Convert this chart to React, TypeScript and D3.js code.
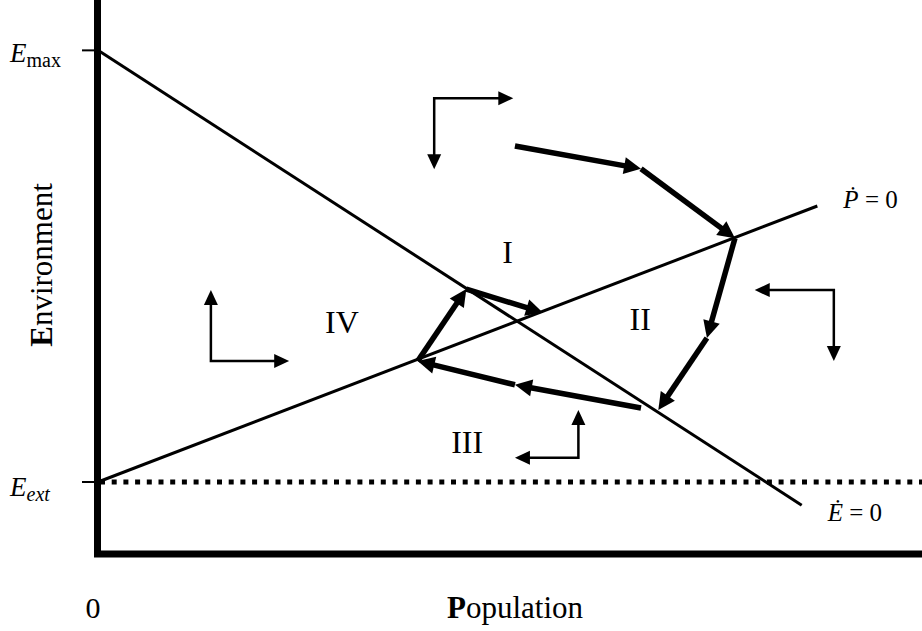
import * as d3 from 'd3'

// phase diagram: population (x) vs environment (y), model units
const E_MAX = 100
const E_EXT = 14.3

// isoclines, [x, y] pairs
const eDotZero: [number, number][] = [[0, 100], [85.4, 9.7]]
const pDotZero: [number, number][] = [[0, 14.3], [87.3, 69.1]]

// thick trajectory segments, each with an arrowhead at its end
const trajectory: [number, number, number, number][] = [
  [50.6, 81.0, 65.9, 76.5],
  [65.9, 76.5, 77.3, 62.7],
  [77.3, 62.7, 73.9, 42.9],
  [73.9, 42.9, 68.0, 28.6],
  [65.9, 29.0, 50.6, 33.6],
  [50.6, 33.6, 38.8, 38.3],
  [38.8, 38.3, 44.7, 52.6],
  [44.7, 52.6, 54.0, 47.9],
]

// direction indicators per region: corner, horizontal tip, vertical tip
const directions = [
  { corner: [40.8, 90.5], hTip: 50.4, vTip: 76.4 },
  { corner: [89.3, 52.4], hTip: 79.7, vTip: 38.3 },
  { corner: [58.3, 19.1], hTip: 50.6, vTip: 28.6 },
  { corner: [13.7, 38.3], hTip: 23.2, vTip: 52.4 },
]

const regionLabels = [
  { text: 'I', at: [49.7, 57.8] },
  { text: 'II', at: [65.8, 44.5] },
  { text: 'III', at: [44.8, 20.1] },
  { text: 'IV', at: [29.6, 43.9] },
]

const W = 922
const H = 631
const FONT = '"Liberation Serif", "Times New Roman", serif'

function arrow(x1: number, y1: number, x2: number, y2: number, len: number, half: number) {
  const dx = x2 - x1
  const dy = y2 - y1
  const d = Math.hypot(dx, dy)
  const ux = dx / d
  const uy = dy / d
  const bx = x2 - ux * len
  const by = y2 - uy * len
  const head = `M${x2},${y2}L${bx - uy * half},${by + ux * half}L${bx + uy * half},${by - ux * half}Z`
  const stop = len * 0.7
  return { lx: x2 - ux * stop, ly: y2 - uy * stop, head }
}

export default function App() {
  const x = d3.scaleLinear().domain([0, 100]).range([98, 922])
  const y = d3.scaleLinear().domain([0, 110]).range([554, 0])

  const line = d3.line<[number, number]>().x(d => x(d[0])).y(d => y(d[1]))

  const eEnd = eDotZero[eDotZero.length - 1]
  const pEnd = pDotZero[pDotZero.length - 1]

  return (
    <svg width={W} height={H} style={{ position: 'absolute', left: 0, top: 0, background: '#fff' }}
      fontFamily={FONT}>
      {/* isoclines */}
      <path d={line(eDotZero) ?? ''} stroke="#000" strokeWidth={3} fill="none" />
      <path d={line(pDotZero) ?? ''} stroke="#000" strokeWidth={3} fill="none" />

      {/* extinction threshold */}
      <line x1={x(0) + 2} x2={W} y1={y(E_EXT)} y2={y(E_EXT)} stroke="#000" strokeWidth={5}
        strokeDasharray="5 6.7" />

      {/* axes */}
      <path d={`M${x(0) - 0.5},0V${y(0)}H${W}`} stroke="#000" strokeWidth={7} fill="none" />
      {[E_MAX, E_EXT].map(v => (
        <line key={v} x1={x(0) - 16} x2={x(0)} y1={y(v)} y2={y(v)} stroke="#000" strokeWidth={2} />
      ))}

      {/* trajectory */}
      {trajectory.map((s, i) => {
        const x1 = x(s[0]), y1 = y(s[1]), x2 = x(s[2]), y2 = y(s[3])
        const a = arrow(x1, y1, x2, y2, 17, 8.5)
        return (
          <g key={i}>
            <line x1={x1} y1={y1} x2={a.lx} y2={a.ly} stroke="#000" strokeWidth={5.5} />
            <path d={a.head} fill="#000" />
          </g>
        )
      })}

      {/* direction indicators */}
      {directions.map((dd, i) => {
        const cx = x(dd.corner[0]), cy = y(dd.corner[1])
        const hx = x(dd.hTip), vy = y(dd.vTip)
        const ah = arrow(cx, cy, hx, cy, 15, 7)
        const av = arrow(cx, cy, cx, vy, 15, 7)
        return (
          <g key={i}>
            <path d={`M${ah.lx},${cy}H${cx}V${av.ly}`} stroke="#000" strokeWidth={2.5} fill="none" />
            <path d={ah.head} fill="#000" />
            <path d={av.head} fill="#000" />
          </g>
        )
      })}

      {/* region labels */}
      {regionLabels.map(r => (
        <text key={r.text} x={x(r.at[0])} y={y(r.at[1])} textAnchor="middle" fontSize={32}>{r.text}</text>
      ))}

      {/* isocline labels */}
      <text x={x(pEnd[0]) + 26} y={y(pEnd[1]) + 2} fontSize={25}>
        <tspan fontStyle="italic">Ṗ</tspan><tspan> = 0</tspan>
      </text>
      <text x={x(eEnd[0]) + 26} y={y(eEnd[1]) + 16} fontSize={25}>
        <tspan fontStyle="italic">Ė</tspan><tspan> = 0</tspan>
      </text>

      {/* y tick labels */}
      <text x={10} y={y(E_MAX) + 12} fontSize={27}>
        <tspan fontStyle="italic">E</tspan><tspan fontSize={20} dy={5}>max</tspan>
      </text>
      <text x={10} y={y(E_EXT) + 14} fontSize={27}>
        <tspan fontStyle="italic">E</tspan><tspan fontSize={20} fontStyle="italic" dy={5}>ext</tspan>
      </text>

      {/* axis titles */}
      <text x={x(0) - 5} y={618} textAnchor="middle" fontSize={30}>0</text>
      <text x={515} y={618} textAnchor="middle" fontSize={31}>
        <tspan fontWeight="bold">P</tspan>opulation
      </text>
      <text transform="translate(52,265) rotate(-90)" textAnchor="middle" fontSize={31}>
        <tspan fontWeight="bold">E</tspan>nvironment
      </text>
    </svg>
  )
}
